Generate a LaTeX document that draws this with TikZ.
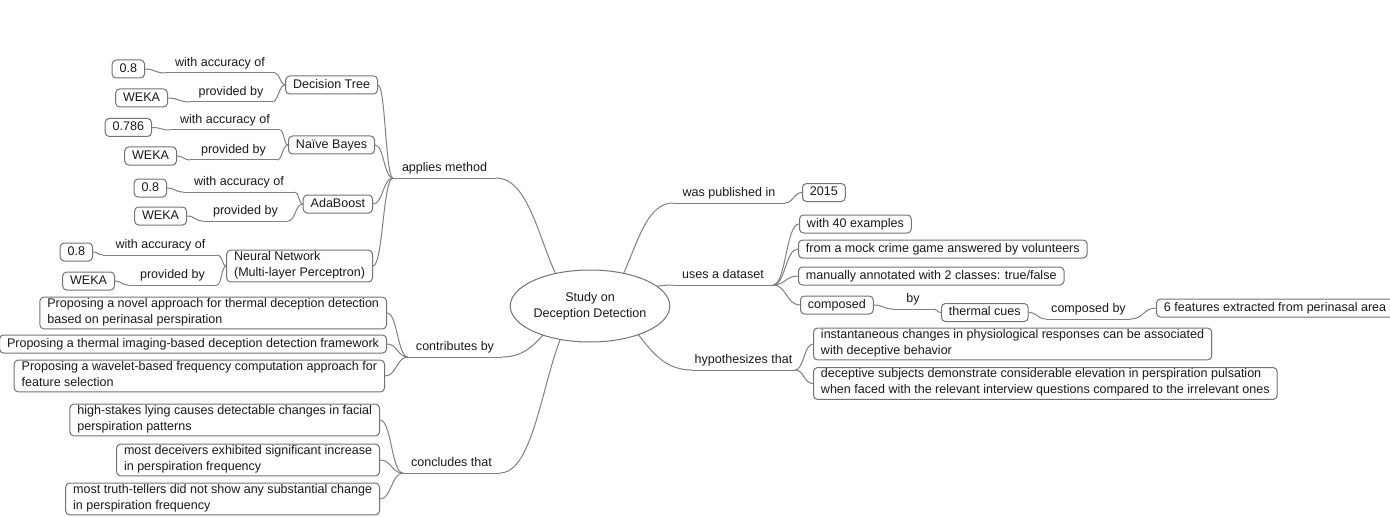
\documentclass[tikz,border=0pt]{standalone}
\usepackage{fontspec}
\setmainfont{Liberation Sans}
\usetikzlibrary{calc,backgrounds,shapes.geometric}
\tikzset{
  conn/.style={draw=black!50, line width=0.75pt},
  box/.style={draw=black!55, fill=white, rounded corners=3pt, line width=0.75pt,
    inner xsep=5.6pt, inner ysep=0.75pt, align=left, text=black!90,
    font=\fontsize{9.4}{12}\selectfont,
    execute at begin node=\strut, execute at end node=\strut},
  lbl/.style={inner sep=0.75pt, anchor=south, text=black!90,
    font=\fontsize{9.4}{12}\selectfont, execute at begin node=\strut},
  rootnode/.style={ellipse, draw=black!55, fill=white, line width=0.75pt,
    minimum width=105pt, minimum height=54pt, inner sep=0pt, align=center,
    text=black!90, font=\fontsize{9.4}{12}\selectfont},
  hs/.style={to path={let \p1=(\tikztostart), \p2=(\tikztotarget),
    \p3=($(\p1)!0.5!(\p2)$) in .. controls (\x3,\y1) and (\x3,\y2) .. (\tikztotarget)}}
}
\newcommand{\edgelab}[5]{%
  \coordinate (#1w) at (#2,#4);
  \coordinate (#1e) at (#3,#4);
  \node[lbl] (#1) at ($(#1w)!0.5!(#1e)$) {#5};
  \draw[conn] (#1w) -- (#1e);}
\begin{document}
\begin{tikzpicture}[x=0.75pt,y=-0.75pt]
\useasboundingbox (0,0) rectangle (1390,517);
% root
\node[rootnode] (root) at (590,306) {Study on\\Deception Detection};
% methods
\node[box,anchor=east] (dt) at (378,85) {Decision Tree};
\node[box,anchor=east] (dtacc) at (145,69) {0.8};
\node[box,anchor=east] (dtweka) at (168,98) {WEKA};
\node[box,anchor=east] (nb) at (375,145) {Naïve Bayes};
\node[box,anchor=east] (nbacc) at (152,127.5) {0.786};
\node[box,anchor=east] (nbweka) at (177,156) {WEKA};
\node[box,anchor=east] (ab) at (373,204) {AdaBoost};
\node[box,anchor=east] (abacc) at (167,188) {0.8};
\node[box,anchor=east] (abweka) at (187,216) {WEKA};
\node[box,anchor=east] (nn) at (373,266) {Neural Network\\(Multi-layer Perceptron)};
\node[box,anchor=east] (nnacc) at (93,252) {0.8};
\node[box,anchor=east] (nnweka) at (115,281) {WEKA};
% contributions
\node[box,anchor=east] (c1) at (387,313) {Proposing a novel approach for thermal deception detection\\based on perinasal perspiration};
\node[box,anchor=east] (c2) at (387,344) {Proposing a thermal imaging-based deception detection framework};
\node[box,anchor=east] (c3) at (385,376) {Proposing a wavelet-based frequency computation approach for\\feature selection};
% conclusions
\node[box,anchor=east] (k1) at (380,420) {high-stakes lying causes detectable changes in facial\\perspiration patterns};
\node[box,anchor=east] (k2) at (380,460) {most deceivers exhibited significant increase\\in perspiration frequency};
\node[box,anchor=east] (k3) at (380,499) {most truth-tellers did not show any substantial change\\in perspiration frequency};
% right side
\node[box,anchor=west] (y2015) at (802,192.5) {2015};
\node[box,anchor=west] (d1) at (799,224) {with 40 examples};
\node[box,anchor=west] (d2) at (798,249) {from a mock crime game answered by volunteers};
\node[box,anchor=west] (d3) at (798,276) {manually annotated with 2 classes: true/false};
\node[box,anchor=west] (d4) at (800,305) {composed};
\node[box,anchor=west] (tc) at (941,312.5) {thermal cues};
\node[box,anchor=west] (sf) at (1156,308) {6 features extracted from perinasal area};
\node[box,anchor=west] (h1) at (813,344) {instantaneous changes in physiological responses can be associated\\with deceptive behavior};
\node[box,anchor=west] (h2) at (813,383.5) {deceptive subjects demonstrate considerable elevation in perspiration pulsation\\when faced with the relevant interview questions compared to the irrelevant ones};
% edge labels
\edgelab{am}{393}{496}{178}{applies method}
\edgelab{cb}{408}{502}{357}{contributes by}
\edgelab{ct}{403}{500}{473}{concludes that}
\edgelab{wp}{673}{785}{203}{was published in}
\edgelab{ud}{673}{773}{285}{uses a dataset}
\edgelab{ht}{692}{795}{370}{hypothesizes that}
\edgelab{by}{893}{933}{309}{by}
\edgelab{cby}{1046}{1131}{319}{composed by}
\edgelab{a1}{165}{275}{73}{with accuracy of}
\edgelab{p1}{190}{272}{102}{provided by}
\edgelab{a2}{170}{280}{130}{with accuracy of}
\edgelab{p2}{190}{277}{160}{provided by}
\edgelab{a3}{183}{295}{192}{with accuracy of}
\edgelab{p3}{203}{288}{221}{provided by}
\edgelab{a4}{103}{218}{255}{with accuracy of}
\edgelab{p4}{128}{217}{285}{provided by}
% connectors
\begin{scope}[on background layer]
\draw[conn] (root.center) to[hs] (ame);
\draw[conn] (root.center) to[hs] (cbe);
\draw[conn] (root.center) to[hs] (cte);
\draw[conn] (root.center) to[hs] (wpw);
\draw[conn] (root.center) to[hs] (udw);
\draw[conn] (root.center) to[hs] (htw);
\end{scope}
\foreach \m in {dt,nb,ab,nn} \draw[conn] (amw) to[hs] (\m.east);
\draw[conn] (dtacc.east) to[hs] (a1w);
\draw[conn] (a1e) to[hs] (dt.west);
\draw[conn] (dtweka.east) to[hs] (p1w);
\draw[conn] (p1e) to[hs] (dt.west);
\draw[conn] (nbacc.east) to[hs] (a2w);
\draw[conn] (a2e) to[hs] (nb.west);
\draw[conn] (nbweka.east) to[hs] (p2w);
\draw[conn] (p2e) to[hs] (nb.west);
\draw[conn] (abacc.east) to[hs] (a3w);
\draw[conn] (a3e) to[hs] (ab.west);
\draw[conn] (abweka.east) to[hs] (p3w);
\draw[conn] (p3e) to[hs] (ab.west);
\draw[conn] (nnacc.east) to[hs] (a4w);
\draw[conn] (a4e) to[hs] (nn.west);
\draw[conn] (nnweka.east) to[hs] (p4w);
\draw[conn] (p4e) to[hs] (nn.west);
\foreach \m in {c1,c2,c3} \draw[conn] (cbw) to[hs] (\m.east);
\foreach \m in {k1,k2,k3} \draw[conn] (ctw) to[hs] (\m.east);
\draw[conn] (wpe) to[hs] (y2015.west);
\foreach \m in {d1,d2,d3,d4} \draw[conn] (ude) to[hs] (\m.west);
\draw[conn] (d4.east) to[hs] (byw);
\draw[conn] (bye) to[hs] (tc.west);
\draw[conn] (tc.east) to[hs] (cbyw);
\draw[conn] (cbye) to[hs] (sf.west);
\foreach \m in {h1,h2} \draw[conn] (hte) to[hs] (\m.west);
\end{tikzpicture}
\end{document}
